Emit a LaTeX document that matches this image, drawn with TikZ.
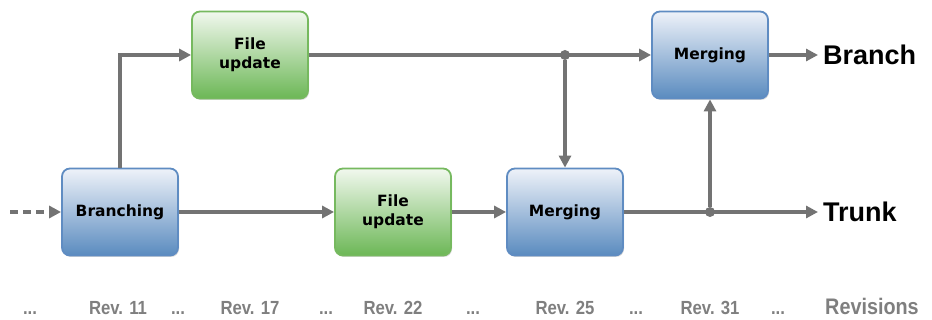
\documentclass[tikz,border=0pt]{standalone}
\usepackage{fontspec}
\setmainfont{DejaVu Sans}
\newfontfamily\labelfont{Liberation Sans}
\newfontfamily\revfont[FakeStretch=0.88]{Liberation Sans}
\usetikzlibrary{positioning,shadows,arrows.meta}

\definecolor{flowgray}{HTML}{737373}
\definecolor{revgray}{HTML}{7F7F7F}
\definecolor{blueedge}{HTML}{5F8CC2}
\definecolor{bluetop}{HTML}{EEF2F9}
\definecolor{bluemid}{HTML}{7199C9}
\definecolor{bluebot}{HTML}{5A8BBF}
\definecolor{greenedge}{HTML}{76B95F}
\definecolor{greentop}{HTML}{F1F8EE}
\definecolor{greenmid}{HTML}{86C473}
\definecolor{greenbot}{HTML}{6CB756}

\begin{document}
\begin{tikzpicture}[x=1pt,y=-1pt,
	box/.style={rounded corners=8pt, minimum width=116pt, minimum height=87pt,
		line width=1.8pt, align=center, text=black,
		font=\bfseries\fontsize{15.5}{19}\selectfont,
		drop shadow={opacity=0.3, shadow xshift=1pt, shadow yshift=-1.5pt}},
	bluebox/.style={box, draw=blueedge, top color=bluetop, middle color=bluemid, bottom color=bluebot},
	greenbox/.style={box, draw=greenedge, top color=greentop, middle color=greenmid, bottom color=greenbot},
	flow/.style={draw=flowgray, line width=3.2pt, -{Triangle[length=12pt,width=12pt]}},
	junction/.style={circle, fill=flowgray, inner sep=0pt, minimum size=10pt},
	line/.style={anchor=west, inner sep=5pt, font=\labelfont\bfseries\fontsize{27}{29}\selectfont},
	rev/.style={text=revgray, inner sep=0pt, anchor=base, font=\revfont\bfseries\fontsize{19}{20}\selectfont}]

	\useasboundingbox (0,0) rectangle (932,320);

	\node[bluebox] (branching) at (120,212) {Branching};
	\node[greenbox] (upd1) at (250,55) {File\\update};
	\node[greenbox] (upd2) at (393,212) {File\\update};
	\node[bluebox] (merge1) at (565,212) {Merging};
	\node[bluebox] (merge2) at (710,55) {Merging};

	\node[line] (branch) at (818,55) {Branch};
	\node[line] (trunk) at (818,212) {Trunk};

	\coordinate (start) at (10,212);
	\node[junction] (j1) at (merge1.north |- upd1) {};
	\node[junction] (j2) at (merge2.south |- merge1) {};

	\draw[flow, dash pattern=on 8pt off 5pt] (start) -- (branching);
	\draw[flow] (branching.north) |- (upd1.west);
	\draw[flow] (branching) -- (upd2);
	\draw[flow] (upd2) -- (merge1);
	\draw[flow] (upd1) -- (merge2);
	\draw[flow] (j1) -- (merge1);
	\draw[flow] (merge1) -- (trunk.west);
	\draw[flow] (j2) -- (merge2);
	\draw[flow] (merge2) -- (branch.west);

	% revisions along the bottom
	\foreach \x/\n in {30/a, 178/b, 326/c, 473/d, 636/e, 778/f}
		\node[rev] (dots\n) at (\x,315) {...};
	\foreach \x/\r in {118/11, 250/17, 393/22, 565/25, 710/31}
		\node[rev] (rev\r) at (\x,315) {Rev. \r};
	\node[rev, anchor=base west, font=\revfont\bfseries\fontsize{22.5}{24}\selectfont] (revisions) at (825,315) {Revisions};
\end{tikzpicture}
\end{document}
